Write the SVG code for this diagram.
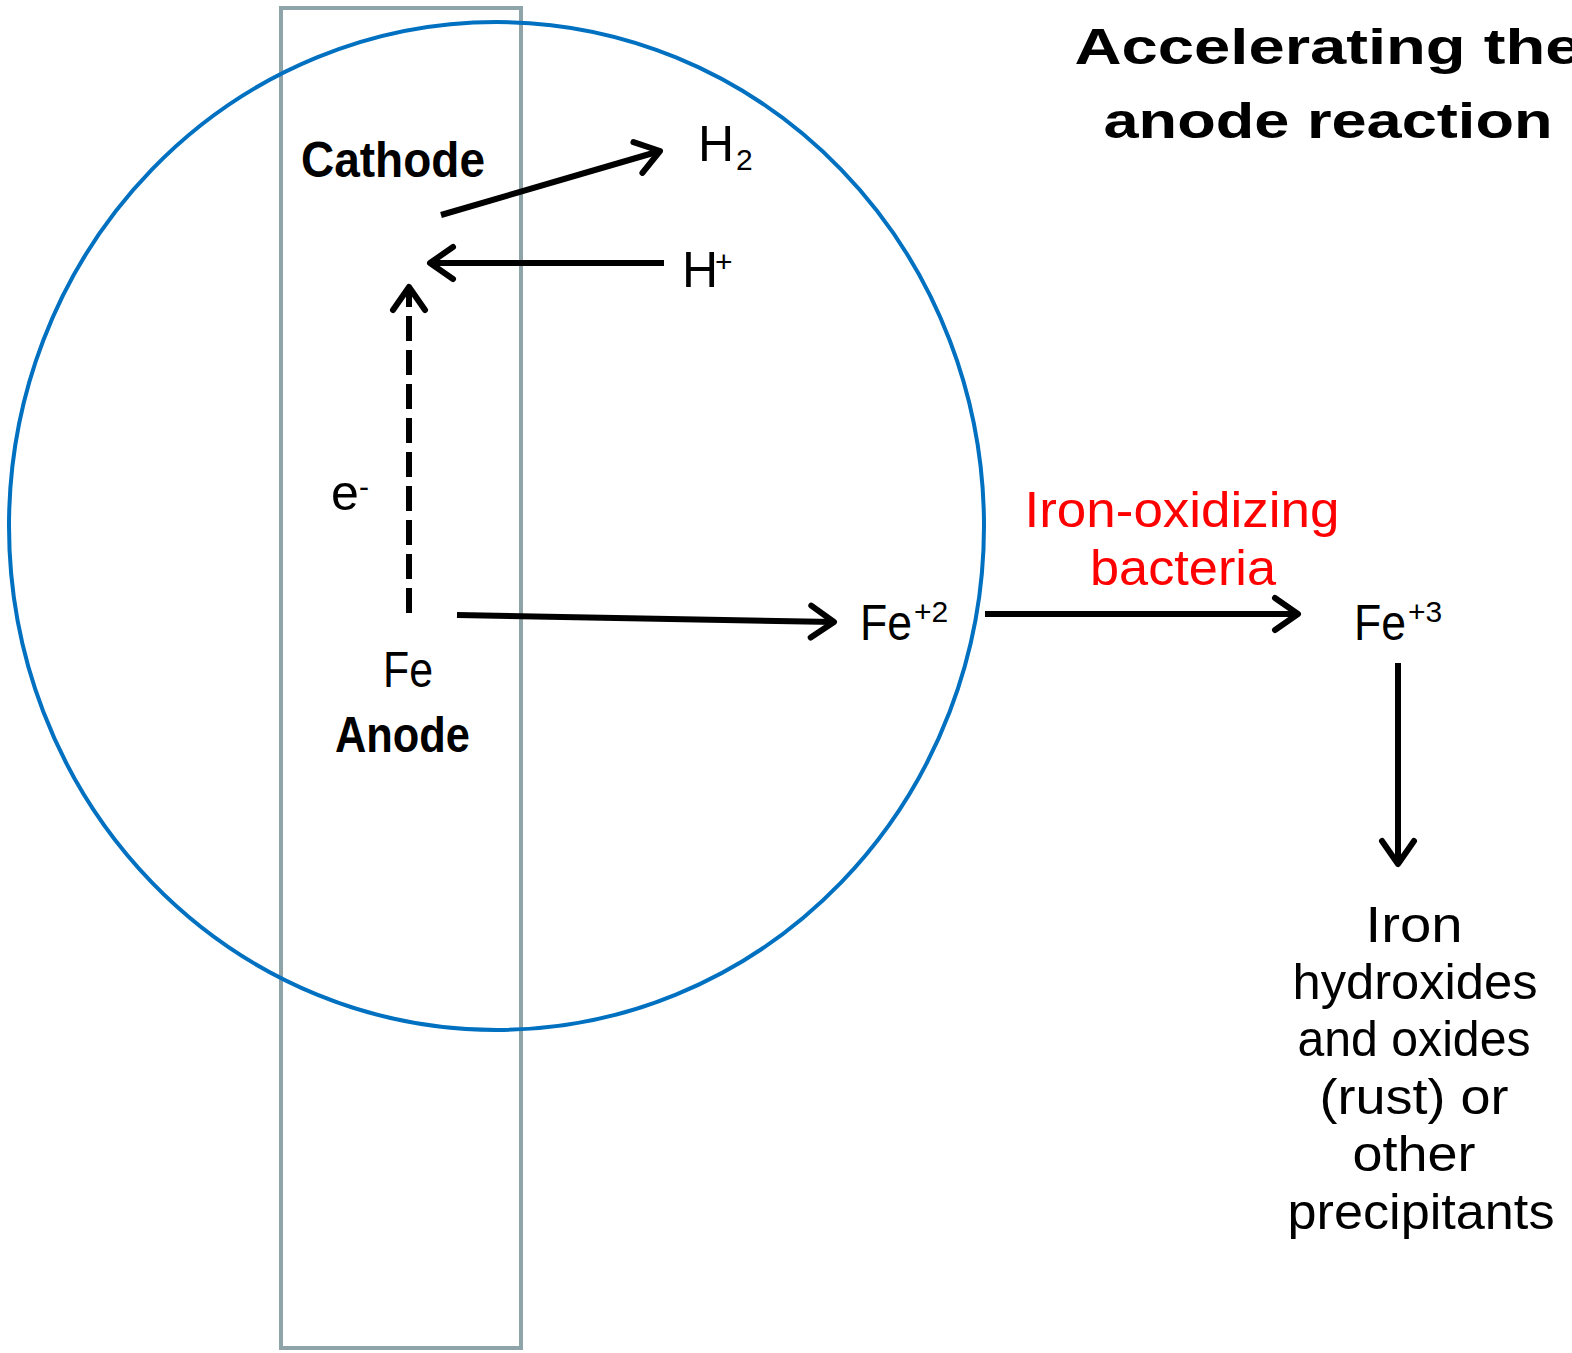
<svg xmlns="http://www.w3.org/2000/svg" width="1572" height="1353" viewBox="0 0 1572 1353">
<style>
.t{font-family:"Liberation Sans",Arial,sans-serif;font-size:50px;fill:#000}
.b{font-weight:bold}
.sup{font-size:30px}
.red{fill:#ff0000}
.ln{stroke:#000;stroke-width:6;fill:none}
.dash{stroke-dasharray:25 9}
</style>
<defs>
<marker id="arr" markerUnits="userSpaceOnUse" viewBox="-40 -30 50 60" markerWidth="50" markerHeight="60" refX="0" refY="0" orient="auto" overflow="visible">
<path d="M-23 -16 L0 0 L-23 16" fill="none" stroke="#000" stroke-width="6" stroke-linecap="round" stroke-linejoin="round"/>
</marker>
</defs>
<rect width="1572" height="1353" fill="#fff"/>
<g id="electrode"><rect x="281" y="8" width="240" height="1340" fill="none" stroke="#8fa4a9" stroke-width="4"/></g>
<g id="region"><ellipse cx="496.5" cy="526" rx="487.5" ry="504" fill="none" stroke="#0070c0" stroke-width="4"/></g>
<g id="connectors">
<line class="ln" x1="441" y1="215" x2="660" y2="151" marker-end="url(#arr)"/>
<line class="ln" x1="664" y1="263" x2="430" y2="263" marker-end="url(#arr)"/>
<line class="ln dash" x1="409" y1="613" x2="409" y2="287" marker-end="url(#arr)"/>
<line class="ln" x1="457" y1="615" x2="834" y2="622" marker-end="url(#arr)"/>
<line class="ln" x1="985" y1="614" x2="1298" y2="614" marker-end="url(#arr)"/>
<line class="ln" x1="1398" y1="663" x2="1398" y2="864" marker-end="url(#arr)"/>
</g>
<g id="title"><text class="t b" font-size="63" text-anchor="middle"><tspan x="1328" y="64" textLength="507" lengthAdjust="spacingAndGlyphs">Accelerating the</tspan><tspan x="1328" y="138" textLength="449" lengthAdjust="spacingAndGlyphs">anode reaction</tspan></text></g>
<g id="cathode"><text class="t b" x="301" y="177" font-size="48" textLength="184" lengthAdjust="spacingAndGlyphs">Cathode</text></g>
<g id="h2"><text class="t"><tspan x="698" y="161">H</tspan><tspan class="sup" x="736" y="170">2</tspan></text></g>
<g id="hplus"><text class="t"><tspan x="682" y="287">H</tspan><tspan class="sup" x="715" y="272">+</tspan></text></g>
<g id="electron"><text class="t"><tspan x="331" y="510">e</tspan><tspan class="sup" x="359" y="497">-</tspan></text></g>
<g id="fe"><text class="t" x="408" y="687" text-anchor="middle" textLength="50" lengthAdjust="spacingAndGlyphs">Fe</text></g>
<g id="anode"><text class="t b" x="335" y="752" font-size="50" textLength="135" lengthAdjust="spacingAndGlyphs">Anode</text></g>
<g id="fe2"><text class="t"><tspan x="860" y="640" textLength="52" lengthAdjust="spacingAndGlyphs">Fe</tspan><tspan class="sup" x="914" y="622">+2</tspan></text></g>
<g id="bacteria"><text class="t red" text-anchor="middle"><tspan x="1182" y="527" textLength="315" lengthAdjust="spacingAndGlyphs">Iron-oxidizing</tspan><tspan x="1183" y="585" textLength="186" lengthAdjust="spacingAndGlyphs">bacteria</tspan></text></g>
<g id="fe3"><text class="t"><tspan x="1354" y="640" textLength="52" lengthAdjust="spacingAndGlyphs">Fe</tspan><tspan class="sup" x="1408" y="622">+3</tspan></text></g>
<g id="rust"><text class="t" text-anchor="middle">
<tspan x="1421" y="942" textLength="97" lengthAdjust="spacingAndGlyphs">Iron</tspan>
<tspan x="1422" y="999" textLength="245" lengthAdjust="spacingAndGlyphs">hydroxides</tspan>
<tspan x="1421" y="1056" textLength="233" lengthAdjust="spacingAndGlyphs">and oxides</tspan>
<tspan x="1421" y="1114" textLength="189" lengthAdjust="spacingAndGlyphs">(rust) or</tspan>
<tspan x="1421" y="1171" textLength="123" lengthAdjust="spacingAndGlyphs">other</tspan>
<tspan x="1421" y="1229" textLength="267" lengthAdjust="spacingAndGlyphs">precipitants</tspan>
</text></g>
</svg>
